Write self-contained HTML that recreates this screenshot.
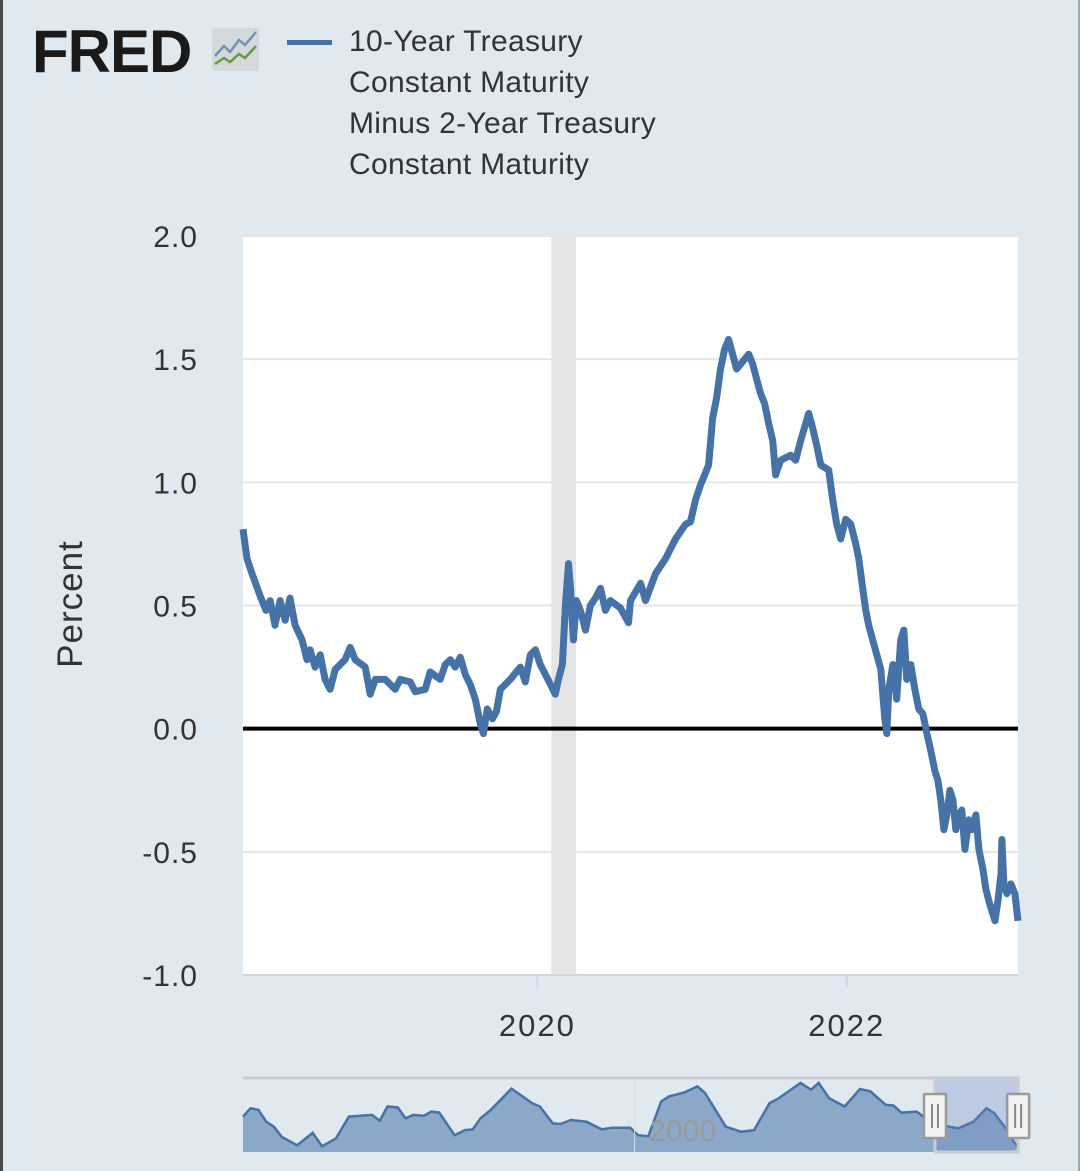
<!DOCTYPE html>
<html><head><meta charset="utf-8"><style>
html,body{margin:0;padding:0;}
body{width:1080px;height:1171px;background:#e1e9f0;position:relative;overflow:hidden;font-family:"Liberation Sans",sans-serif;}
.bl{position:absolute;left:0;top:0;width:3px;height:1171px;background:#4a4a4a;}
.br{position:absolute;right:0;top:0;width:2px;height:1171px;background:#9aa;}
.logo{position:absolute;left:32px;top:17px;font-weight:bold;font-size:60px;letter-spacing:-1px;color:#1a1a1a;}
.leg{position:absolute;left:349px;top:21px;font-size:30px;line-height:41px;color:#333;letter-spacing:0.3px;}
</style></head><body>
<div class="bl"></div>
<div class="br"></div>
<div class="logo">FRED</div>
<svg style="position:absolute;left:212px;top:28px" width="47" height="43">
<rect x="0" y="0" width="47" height="43" rx="3" fill="#d5d9dc"/>
<polyline points="3,28 12,18 18,24 27,12 33,17 44,4" fill="none" stroke="#6f93b0" stroke-width="2.5"/>
<polyline points="3,36 12,30 18,34 27,26 33,30 44,18" fill="none" stroke="#6b9a3a" stroke-width="2.5"/>
</svg>
<div style="position:absolute;left:287px;top:40px;width:45px;height:5px;background:#4572a7"></div>
<div class="leg">10-Year Treasury<br>Constant Maturity<br>Minus 2-Year Treasury<br>Constant Maturity</div>
<svg id="chart" style="position:absolute;left:0;top:0" width="1080" height="1171"></svg>
<script>
const dates=[2018.097,2018.123,2018.155,2018.207,2018.246,2018.272,2018.304,2018.337,2018.369,2018.401,2018.434,2018.479,2018.511,2018.531,2018.563,2018.596,2018.628,2018.660,2018.693,2018.757,2018.790,2018.822,2018.887,2018.919,2018.952,2019.016,2019.081,2019.113,2019.178,2019.210,2019.275,2019.307,2019.372,2019.405,2019.437,2019.469,2019.502,2019.534,2019.566,2019.599,2019.631,2019.651,2019.676,2019.709,2019.735,2019.761,2019.825,2019.890,2019.922,2019.955,2019.987,2020.019,2020.052,2020.084,2020.116,2020.136,2020.162,2020.181,2020.201,2020.214,2020.233,2020.252,2020.278,2020.311,2020.343,2020.375,2020.408,2020.440,2020.472,2020.537,2020.589,2020.602,2020.667,2020.699,2020.764,2020.828,2020.893,2020.958,2020.990,2021.023,2021.055,2021.107,2021.133,2021.158,2021.184,2021.210,2021.236,2021.262,2021.288,2021.340,2021.366,2021.392,2021.417,2021.443,2021.469,2021.495,2021.521,2021.540,2021.573,2021.637,2021.670,2021.702,2021.735,2021.754,2021.780,2021.806,2021.832,2021.883,2021.909,2021.935,2021.961,2021.993,2022.026,2022.058,2022.078,2022.103,2022.123,2022.142,2022.168,2022.194,2022.220,2022.246,2022.259,2022.272,2022.298,2022.323,2022.349,2022.369,2022.388,2022.414,2022.440,2022.466,2022.492,2022.518,2022.543,2022.569,2022.589,2022.608,2022.628,2022.647,2022.667,2022.686,2022.705,2022.725,2022.744,2022.764,2022.789,2022.809,2022.835,2022.854,2022.880,2022.899,2022.919,2022.938,2022.958,2022.977,2022.997,2023.003,2023.016,2023.035,2023.061,2023.087,2023.107];
const values=[0.81,0.69,0.63,0.54,0.48,0.52,0.42,0.52,0.44,0.53,0.42,0.36,0.28,0.32,0.25,0.30,0.20,0.16,0.24,0.28,0.33,0.28,0.25,0.14,0.20,0.20,0.16,0.20,0.19,0.15,0.16,0.23,0.20,0.26,0.28,0.25,0.29,0.22,0.18,0.12,0.02,-0.02,0.08,0.04,0.07,0.16,0.20,0.25,0.19,0.30,0.32,0.26,0.22,0.18,0.14,0.20,0.26,0.50,0.67,0.57,0.36,0.52,0.48,0.40,0.50,0.53,0.57,0.48,0.52,0.49,0.43,0.52,0.59,0.52,0.63,0.69,0.77,0.83,0.84,0.93,0.99,1.07,1.26,1.34,1.46,1.54,1.58,1.52,1.46,1.50,1.52,1.48,1.42,1.36,1.32,1.24,1.17,1.03,1.09,1.11,1.09,1.17,1.24,1.28,1.22,1.15,1.07,1.05,0.93,0.83,0.77,0.85,0.83,0.75,0.69,0.57,0.48,0.42,0.36,0.30,0.24,0.04,-0.02,0.16,0.26,0.12,0.36,0.40,0.20,0.26,0.16,0.08,0.06,-0.02,-0.09,-0.17,-0.21,-0.29,-0.41,-0.35,-0.25,-0.29,-0.41,-0.35,-0.33,-0.49,-0.37,-0.41,-0.35,-0.49,-0.57,-0.65,-0.70,-0.74,-0.78,-0.70,-0.59,-0.45,-0.63,-0.67,-0.63,-0.67,-0.78];
const yTicks=[2.0,1.5,1.0,0.5,0.0,-0.5,-1.0];
const xTicks=[2020,2022];
const recession=[2020.09,2020.25];
const navDates=[1976.4,1976.86,1977.33,1977.8,1978.26,1978.73,1979.66,1980.6,1981.16,1982.0,1982.78,1984.18,1984.64,1985.11,1985.73,1986.2,1986.67,1987.29,1987.75,1988.22,1989.15,1989.78,1990.24,1990.71,1991.33,1992.58,1993.82,1994.29,1995.07,1995.53,1996.16,1997.09,1998.02,1998.64,1999.73,2000.2,2000.82,2001.6,2002.07,2003.0,2003.78,2004.24,2005.49,2006.42,2007.2,2008.13,2008.6,2010.0,2010.62,2011.09,2011.71,2012.65,2013.58,2014.2,2015.13,2015.6,2016.07,2017.0,2017.94,2019.49,2020.42,2021.2,2021.67,2022.29,2022.85,2023.1];
const navValues=[1.05,1.30,1.25,0.90,0.75,0.45,0.20,0.57,0.17,0.40,1.05,1.10,0.93,1.35,1.32,1.00,1.10,1.07,1.20,1.17,0.50,0.65,0.67,1.00,1.25,1.88,1.45,1.35,0.85,0.83,0.95,0.90,0.67,0.72,0.72,0.50,0.47,1.50,1.65,1.77,1.95,1.75,0.75,0.60,0.65,1.45,1.57,2.05,1.85,2.05,1.60,1.35,1.87,1.80,1.40,1.38,1.17,1.20,0.85,0.70,0.90,1.30,1.15,0.75,0.30,0.15];
const navSel=[2018.097,2023.107];

const NS='http://www.w3.org/2000/svg';
const svg=document.getElementById('chart');
const L=243,R=1018,T=236,B=975;
const x0=2018.097,x1=2023.107,yMin=-1,yMax=2;
const xs=d=>L+(d-x0)/(x1-x0)*(R-L);
const ys=v=>B-(v-yMin)/(yMax-yMin)*(B-T);
const NL=243,NR=1018,NT=1078,NB=1152,n0=1976.4,n1=2023.1;
const nxs=d=>NL+(d-n0)/(n1-n0)*(NR-NL);
const nys=v=>NB-v*33.7;
function mk(tag,attrs){const e=document.createElementNS(NS,tag);for(const k in attrs)e.setAttribute(k,attrs[k]);svg.appendChild(e);return e;}

let e=mk('rect',{x:L,y:T,width:R-L,height:B-T,fill:'#fff'});


e=mk('rect',{x:xs(recession[0]),y:T,width:xs(recession[1])-xs(recession[0]),height:B-T,fill:'#e5e5e5'});


yTicks.forEach(v=>{
  if(v!==0&&v!==-1){const g=mk('line',{x1:L,x2:R,y1:ys(v),y2:ys(v),stroke:'#e6e6e6','stroke-width':2});
  
  }
  const t=mk('text',{x:198,y:ys(v)+11,'text-anchor':'end','font-size':30,fill:'#333','font-family':'Liberation Sans, sans-serif','letter-spacing':'1'});
  t.textContent=v.toFixed(1);
  
  
});
e=mk('line',{x1:L,x2:R,y1:B,y2:B,stroke:'#ccd6eb','stroke-width':2});


xTicks.forEach(d=>{
  const k=mk('line',{x1:xs(d),x2:xs(d),y1:B,y2:B+12,stroke:'#ccd6eb','stroke-width':2});
  
  
  const t=mk('text',{x:xs(d),y:1036,'text-anchor':'middle','font-size':31,fill:'#333','font-family':'Liberation Sans, sans-serif','letter-spacing':'2'});
  t.textContent=d;
  
  
});
e=mk('text',{x:0,y:0,transform:'translate(82,604) rotate(-90)','text-anchor':'middle','font-size':35,fill:'#333','font-family':'Liberation Sans, sans-serif','letter-spacing':'1'});
e.textContent='Percent';


e=mk('line',{x1:L,x2:R,y1:ys(0),y2:ys(0),stroke:'#000','stroke-width':4});


e=mk('polyline',{points:dates.map((d,i)=>xs(d).toFixed(1)+','+ys(values[i]).toFixed(1)).join(' '),fill:'none',stroke:'#4572a7','stroke-width':7,'stroke-linejoin':'round'});



// navigator
e=mk('line',{x1:NL,x2:NR,y1:NT,y2:NT,stroke:'#cccccc','stroke-width':3});


const pts=navDates.map((d,i)=>nxs(d).toFixed(1)+','+nys(navValues[i]).toFixed(1));
e=mk('polygon',{points:NL+','+NB+' '+pts.join(' ')+' '+nxs(navDates[navDates.length-1]).toFixed(1)+','+NB,fill:'#4572a7','fill-opacity':0.55});


e=mk('polyline',{points:pts.join(' '),fill:'none',stroke:'#4572a7','stroke-width':2.5});


e=mk('line',{x1:nxs(2000),x2:nxs(2000),y1:NT,y2:NB,stroke:'#d8dde2','stroke-width':1});


e=mk('text',{x:nxs(2000)+48,y:1141,'text-anchor':'middle','font-size':30,fill:'#999','font-family':'Liberation Sans, sans-serif'});
e.textContent='2000';


const s0=nxs(navSel[0]),s1=nxs(navSel[1]);
e=mk('rect',{x:s0,y:NT,width:s1-s0,height:NB-NT,fill:'#6685c2','fill-opacity':0.3,stroke:'#cccccc','stroke-width':3});


[s0,s1].forEach(hx=>{
  const h=mk('rect',{x:hx-11,y:1094,width:22,height:44,fill:'#f2f2f2',stroke:'#999','stroke-width':2.5,rx:1});
  
  
  mk('line',{x1:hx-3,x2:hx-3,y1:1104,y2:1128,stroke:'#888','stroke-width':2});
  mk('line',{x1:hx+3,x2:hx+3,y1:1104,y2:1128,stroke:'#888','stroke-width':2});
});
</script>
</body></html>
